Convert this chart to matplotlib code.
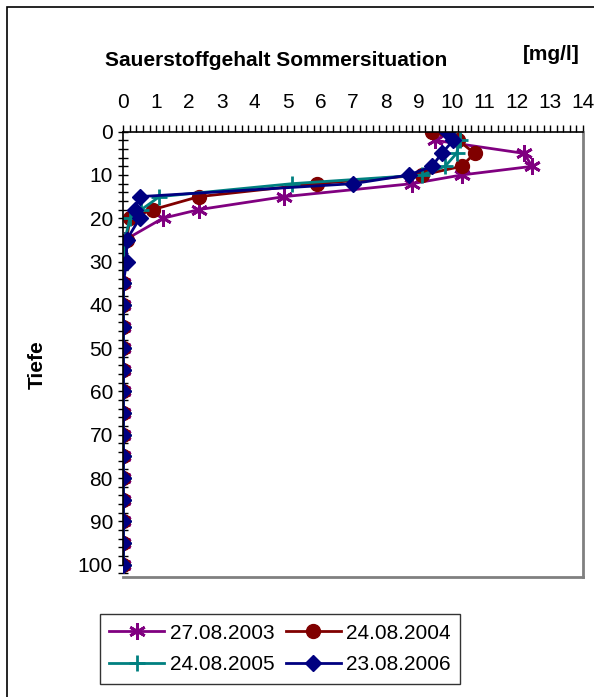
import numpy as np
import matplotlib.pyplot as plt
from matplotlib.patches import Rectangle
from matplotlib.ticker import MultipleLocator

plt.rcParams['font.family'] = ['Liberation Sans', 'DejaVu Sans']

deep = list(range(35, 105, 5))

# 27.08.2003
tiefe_03 = [2, 5, 8, 10, 12, 15, 18, 20, 25, 30] + deep
o2_03 = [9.5, 12.2, 12.45, 10.3, 8.8, 4.9, 2.3, 1.2, 0.05, 0] + [0] * len(deep)

# 24.08.2004
tiefe_04 = [0, 2, 5, 8, 10, 12, 15, 18, 20, 25, 30] + deep
o2_04 = [9.4, 10.2, 10.7, 10.3, 9.1, 5.9, 2.3, 0.9, 0.2, 0.1, 0] + [0] * len(deep)

# 24.08.2005
tiefe_05 = [0, 2, 5, 8, 10, 12, 15, 18, 20, 25, 30] + deep
o2_05 = [9.9, 10.25, 10.15, 9.8, 9.1, 5.15, 1.1, 0.55, 0.2, 0.05, 0] + [0] * len(deep)

# 23.08.2006
tiefe_06 = [0, 2, 5, 8, 10, 12, 15, 18, 20, 25, 30] + deep
o2_06 = [9.85, 10.05, 9.7, 9.4, 8.7, 7.0, 0.5, 0.35, 0.5, 0.1, 0.1] + [0] * len(deep)

fs = 15

fig = plt.figure(figsize=(5.94, 6.97), dpi=100)
fig.patches.append(Rectangle((7 / 594, -0.1), 1.2, 1.1 - 7 / 697,
                             transform=fig.transFigure, fill=False,
                             edgecolor='black', linewidth=1.2))

ax = fig.add_axes([123.3 / 594, 1 - 577 / 697, (583 - 123.3) / 594, (577 - 131.7) / 697])

l03, = ax.plot(o2_03, tiefe_03, color='#800080', lw=2, marker=(6, 2, 0), ms=12, mew=2,
               label='27.08.2003')
l04, = ax.plot(o2_04, tiefe_04, color='#800000', lw=2, marker='o', ms=10,
               label='24.08.2004')
l05, = ax.plot(o2_05, tiefe_05, color='#008080', lw=2, marker='+', ms=12, mew=2,
               label='24.08.2005')
l06, = ax.plot(o2_06, tiefe_06, color='#000080', lw=2, marker='D', ms=8,
               label='23.08.2006')

ax.set_xlim(0, 14)
ax.set_ylim(102.85, 0)
ax.xaxis.tick_top()
ax.xaxis.set_major_locator(MultipleLocator(1))
ax.xaxis.set_minor_locator(MultipleLocator(0.2))
ax.yaxis.set_major_locator(MultipleLocator(10))
ax.yaxis.set_minor_locator(MultipleLocator(2))
ax.tick_params(axis='both', which='both', labelsize=fs)
ax.tick_params(axis='x', which='both', direction='out', length=5, width=1, pad=9)
ax.tick_params(axis='y', which='both', direction='inout', length=7, width=1, pad=4)

ax.spines['left'].set_bounds(0, 100)
ax.spines['left'].set_linewidth(1.2)
ax.spines['top'].set_linewidth(1.2)
for s in ['right', 'bottom']:
    ax.spines[s].set_color('#808080')
    ax.spines[s].set_linewidth(2)

fig.text(276 / 594, 1 - 60 / 697, 'Sauerstoffgehalt Sommersituation',
         ha='center', va='center', fontsize=fs, fontweight='bold')
fig.text(551 / 594, 1 - 55 / 697, '[mg/l]', ha='center', va='center',
         fontsize=fs, fontweight='bold')
fig.text(37 / 594, 1 - 365 / 697, 'Tiefe', ha='center', va='center',
         rotation=90, fontsize=fs, fontweight='bold')

leg = fig.legend([l03, l05, l04, l06],
                 ['27.08.2003', '24.08.2005', '24.08.2004', '23.08.2006'],
                 loc='center', bbox_to_anchor=(280 / 594, 1 - 649 / 697), ncol=2,
                 fontsize=fs, frameon=True, fancybox=False, edgecolor='black',
                 handlelength=2.65, columnspacing=0.55, handletextpad=0.25,
                 borderpad=0.45, labelspacing=0.6, borderaxespad=0)
leg.get_frame().set_linewidth(1)

fig.savefig('out.png', dpi=100)
